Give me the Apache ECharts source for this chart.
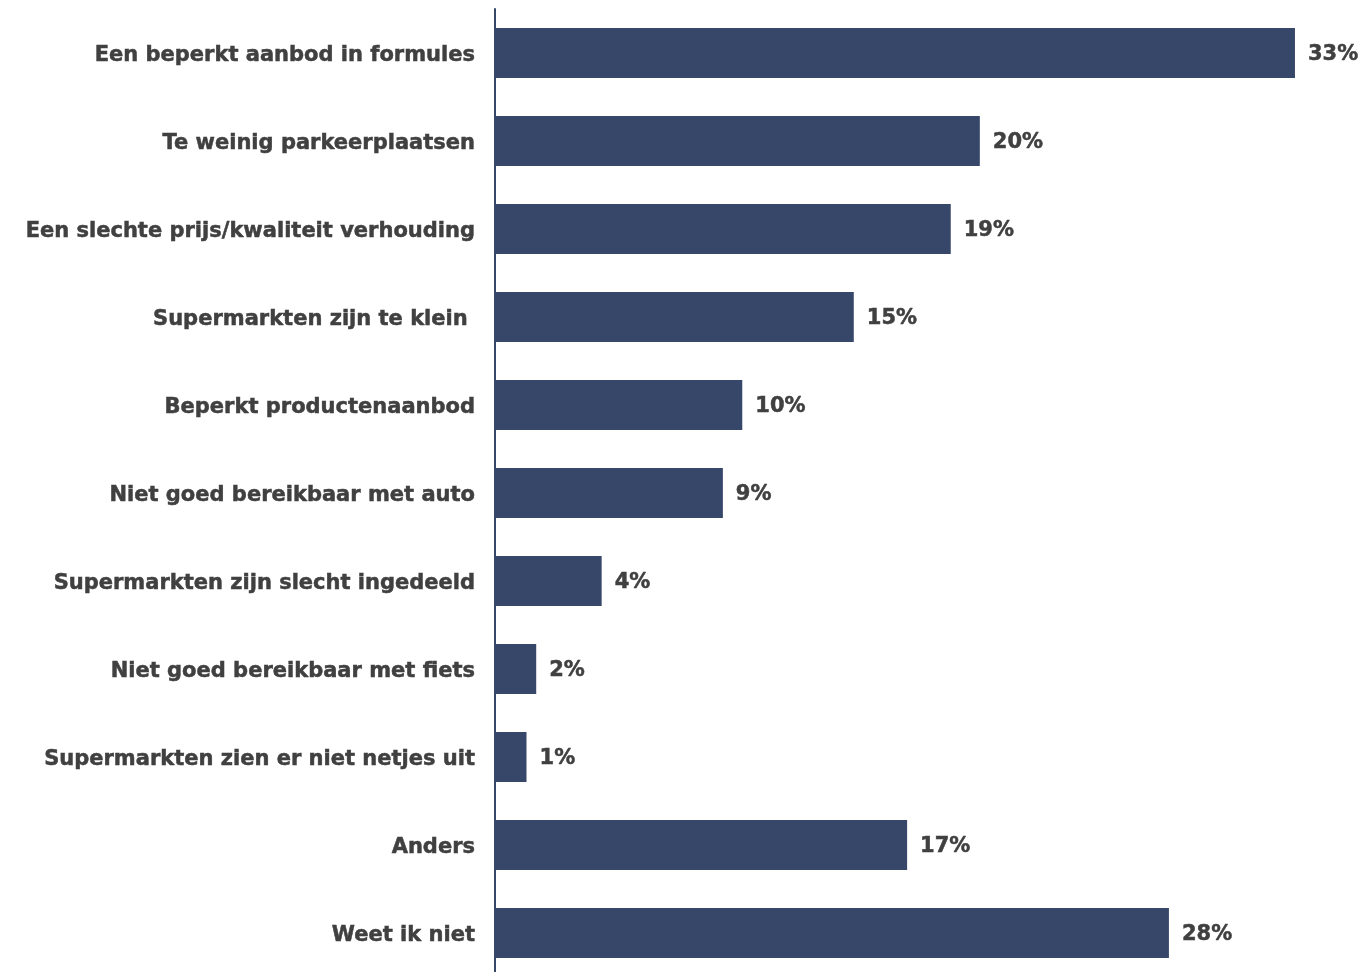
<!DOCTYPE html>
<html><head><meta charset="utf-8">
<script src="https://cdn.jsdelivr.net/npm/echarts@6/dist/echarts.min.js"></script>
<style>html,body{margin:0;padding:0;background:#fff}#c{width:1370px;height:972px}</style>
</head><body><div id="c"></div>
<script>
const categories = [
  "Een beperkt aanbod in formules",
  "Te weinig parkeerplaatsen",
  "Een slechte prijs/kwaliteit verhouding",
  "Supermarkten zijn te klein ",
  "Beperkt productenaanbod",
  "Niet goed bereikbaar met auto",
  "Supermarkten zijn slecht ingedeeld",
  "Niet goed bereikbaar met fiets",
  "Supermarkten zien er niet netjes uit",
  "Anders",
  "Weet ik niet"
];
const values = [33.0, 20.0, 18.8, 14.8, 10.2, 9.4, 4.4, 1.7, 1.3, 17.0, 27.8];
const labels = ["33%", "20%", "19%", "15%", "10%", "9%", "4%", "2%", "1%", "17%", "28%"];

const chart = echarts.init(document.getElementById('c'));
const font = 'Verdana, "DejaVu Sans", sans-serif';
const txt = { color: '#404040', fontFamily: font, fontWeight: 'bold', fontSize: 21,
  textBorderColor: '#404040', textBorderWidth: 0.5, padding: [5, 0, 0, 0] };
chart.setOption({
  animation: false,
  grid: { left: 495, top: 9, width: 872.7, height: 968, containLabel: false, outerBoundsMode: 'none' },
  xAxis: { type: 'value', min: 0, max: 36, show: false },
  yAxis: {
    type: 'category', inverse: true, data: categories,
    axisLine: { show: true, lineStyle: { color: '#37476a', width: 2 } },
    axisTick: { show: false },
    axisLabel: { margin: 20, formatter: v => '{t|' + v + '}', rich: { t: txt } }
  },
  series: [{
    type: 'bar', data: values, barWidth: 50,
    itemStyle: { color: '#37476a' },
    label: {
      show: true, position: 'right', distance: 13,
      color: '#404040', fontFamily: font, fontWeight: 'bold', fontSize: 21,
      textBorderColor: '#404040', textBorderWidth: 0.5, offset: [0, 2],
      formatter: p => labels[p.dataIndex]
    }
  }]
});
</script></body></html>
